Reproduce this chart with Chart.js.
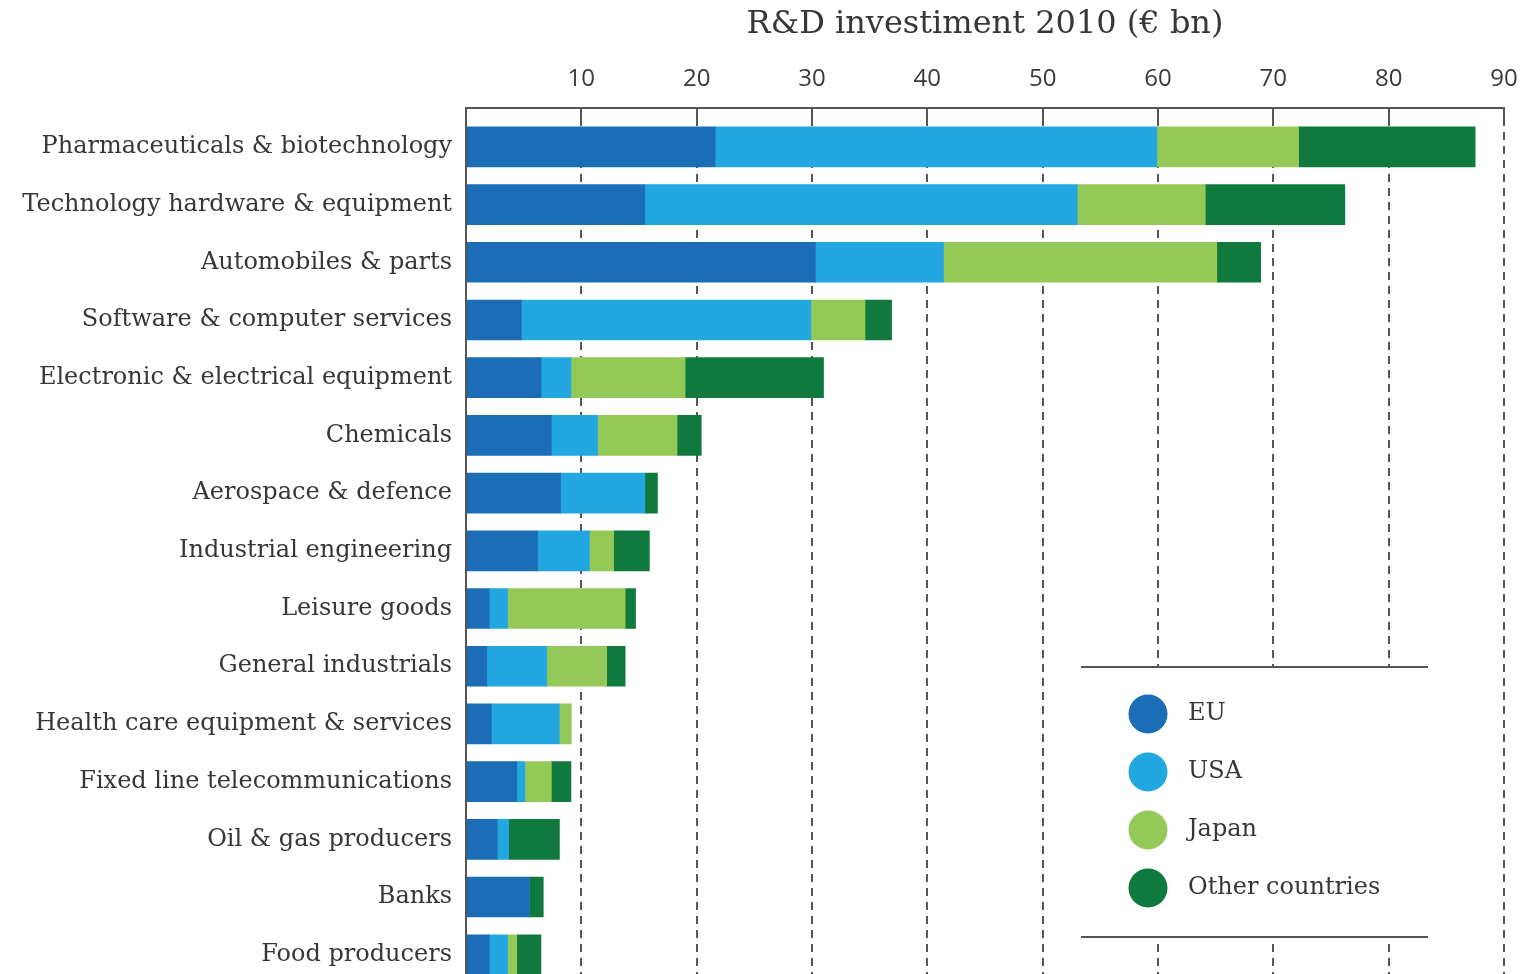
<!DOCTYPE html>
<html>
<head>
<meta charset="utf-8">
<script src="https://cdn.jsdelivr.net/npm/chart.js@4"></script>
<style>
  html, body { margin: 0; padding: 0; background: #fff; overflow: hidden; }
  #wrap { width: 1528px; height: 974px; overflow: hidden; }
</style>
</head>
<body>
<div id="wrap"><canvas id="rd" width="1528" height="1012"></canvas></div>
<script>
// ---------- Data ----------
const categories = [
  "Pharmaceuticals & biotechnology",
  "Technology hardware & equipment",
  "Automobiles & parts",
  "Software & computer services",
  "Electronic & electrical equipment",
  "Chemicals",
  "Aerospace & defence",
  "Industrial engineering",
  "Leisure goods",
  "General industrials",
  "Health care equipment & services",
  "Fixed line telecommunications",
  "Oil & gas producers",
  "Banks",
  "Food producers"
];
const seriesNames = ["EU", "USA", "Japan", "Other countries"];
const euValues    = [21.6, 15.5, 30.3, 4.8, 6.5, 7.4, 8.2, 6.2, 2.0, 1.8, 2.2, 4.4, 2.7, 5.5, 2.0];
const usaValues   = [38.3, 37.5, 11.1, 25.1, 2.6, 4.0, 7.3, 4.5, 1.6, 5.2, 5.9, 0.7, 1.0, 0, 1.6];
const japanValues = [12.3, 11.1, 23.7, 4.7, 9.9, 6.9, 0, 2.1, 10.2, 5.2, 1.0, 2.3, 0, 0, 0.8];
const otherValues = [15.3, 12.1, 3.8, 2.3, 12.0, 2.1, 1.1, 3.1, 0.9, 1.6, 0, 1.7, 4.4, 1.2, 2.1];
const xTicks = [0, 10, 20, 30, 40, 50, 60, 70, 80, 90];
const chartTitle = "R&D investiment 2010 (€ bn)";

const colors = ["#1b6db5", "#23a7e0", "#95c957", "#10793d"];
const serif = "'DejaVu Serif', serif";
const inkColor = "#383636";
const lineColor = "#555555";

// ---------- Frame: top line and left axis ----------
const framePlugin = {
  id: 'frame',
  afterDraw(chart) {
    const { ctx, chartArea } = chart;
    const top = chartArea.top - 10;
    ctx.save();
    ctx.strokeStyle = lineColor;
    ctx.lineWidth = 2;
    ctx.beginPath();
    ctx.moveTo(chartArea.left - 1, top);
    ctx.lineTo(chartArea.right + 1, top);
    ctx.moveTo(chartArea.left, top);
    ctx.lineTo(chartArea.left, chartArea.bottom);
    ctx.stroke();
    ctx.restore();
  }
};

// ---------- Legend box ----------
const legendBox = {
  id: 'legendBox',
  afterDatasetsDraw(chart) {
    const { ctx } = chart;
    const x0 = 1081, x1 = 1428, y0 = 667, y1 = 937;
    ctx.save();
    ctx.fillStyle = '#fff';
    ctx.fillRect(x0, y0, x1 - x0, y1 - y0);
    ctx.strokeStyle = lineColor;
    ctx.lineWidth = 2;
    ctx.beginPath();
    ctx.moveTo(x0, y0); ctx.lineTo(x1, y0);
    ctx.moveTo(x0, y1); ctx.lineTo(x1, y1);
    ctx.stroke();
    ctx.font = "24px " + serif;
    ctx.textBaseline = 'middle';
    chart.data.datasets.forEach((ds, i) => {
      const cy = 714 + i * 58;
      ctx.fillStyle = ds.backgroundColor;
      ctx.beginPath();
      ctx.arc(1148, cy, 19.5, 0, Math.PI * 2);
      ctx.fill();
      ctx.fillStyle = inkColor;
      ctx.fillText(ds.label, 1188, cy);
    });
    ctx.restore();
  }
};

const valueSets = [euValues, usaValues, japanValues, otherValues];

new Chart(document.getElementById('rd'), {
  type: 'bar',
  data: {
    labels: categories,
    datasets: seriesNames.map((name, i) => ({
      label: name,
      data: valueSets[i],
      backgroundColor: colors[i],
      borderWidth: 0,
      barThickness: 40
    }))
  },
  options: {
    indexAxis: 'y',
    responsive: false,
    animation: false,
    layout: { padding: { left: 0, right: 24, top: 0, bottom: 0 } },
    plugins: {
      legend: { display: false },
      tooltip: { enabled: false },
      title: { display: false }
    },
    scales: {
      x: {
        position: 'top',
        stacked: true,
        min: 0,
        max: 90,
        afterBuildTicks(scale) { scale.ticks = xTicks.map(v => ({ value: v })); },
        afterFit(scale) {
          scale.height = 118;
          scale.paddingLeft = 0;
          scale.paddingRight = 0;
        },
        border: { display: false, dash: [8, 6] },
        grid: {
          color: ctx => (ctx.tick && ctx.tick.value === 0) ? 'rgba(0,0,0,0)' : lineColor,
          lineWidth: 2,
          drawTicks: true,
          tickLength: 10
        },
        ticks: {
          padding: 14,
          color: '#3a3a3a',
          font: { family: "'Open Sans', sans-serif", size: 24 },
          callback: v => v === 0 ? '' : v
        },
        title: {
          display: true,
          text: chartTitle,
          color: inkColor,
          font: { family: serif, size: 32 },
          padding: { top: 5, bottom: 0 }
        }
      },
      y: {
        stacked: true,
        afterFit(scale) { scale.width = 466; },
        border: { display: false },
        grid: { display: false, drawTicks: false },
        ticks: {
          padding: 14,
          color: inkColor,
          font: { family: serif, size: 24 }
        }
      }
    }
  },
  plugins: [framePlugin, legendBox]
});
</script>
</body>
</html>
